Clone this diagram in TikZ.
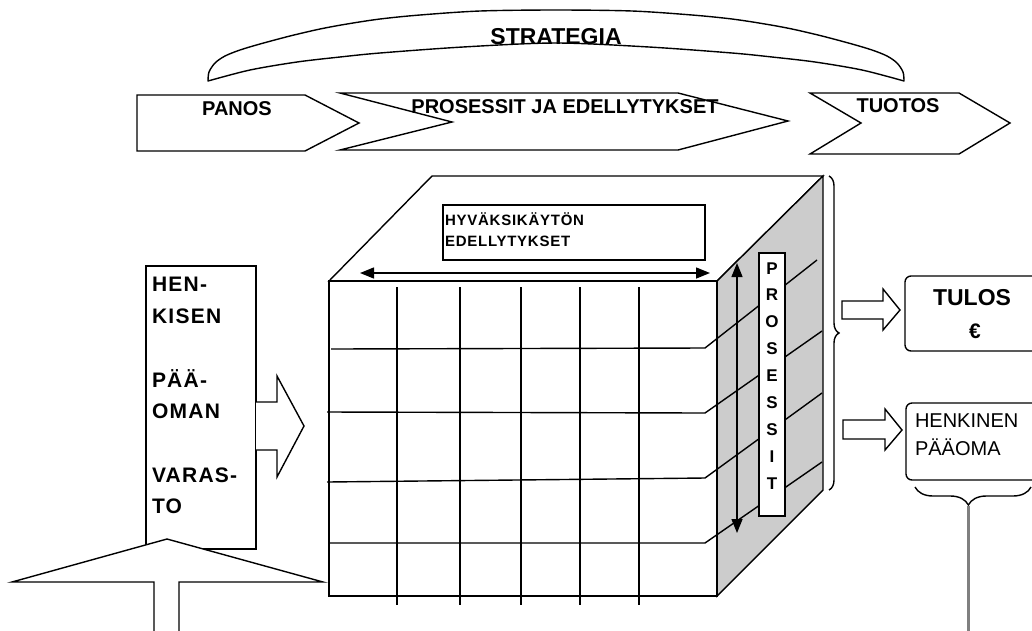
\documentclass[tikz,border=0pt]{standalone}
\usepackage{fontspec}
\setmainfont{Liberation Sans}
\usetikzlibrary{arrows.meta,decorations.pathreplacing}
\definecolor{sidegray}{RGB}{204,204,204}
\definecolor{stemgray}{RGB}{128,128,128}
\begin{document}
\begin{tikzpicture}[x=1pt,y=-1pt,
  line width=1.4pt, line join=miter,
  outline/.style={draw=black,fill=white},
  txt/.style={inner sep=0pt,outer sep=0pt},
  bigbold/.style={txt,font=\bfseries\fontsize{20pt}{24pt}\selectfont},
  capbold/.style={txt,font=\bfseries\fontsize{21pt}{25pt}\selectfont\addfontfeatures{LetterSpace=6}},
  smallbold/.style={txt,font=\bfseries\fontsize{15pt}{18pt}\selectfont\addfontfeatures{LetterSpace=5}},
  letterbold/.style={txt,font=\bfseries\fontsize{17pt}{20pt}\selectfont},
  plain/.style={txt,font=\fontsize{20pt}{24pt}\selectfont},
  dbl/.style={{Triangle[length=14pt,width=11pt]}-{Triangle[length=14pt,width=11pt]}},
  bracedeco/.style={decorate,decoration={brace,amplitude=#1}},
  stem/.style={draw=stemgray,line width=3pt}]
\clip (0,0) rectangle (1032,630);
\fill[white] (0,0) rectangle (1032,630);

% strategy arc band
\draw[outline,line join=round]
  plot[smooth] coordinates {(208,81) (209,72) (215,63) (225,56) (240,50) (260,44)
     (290,36) (320,29) (347,24) (380,19) (420,15) (480,11) (556,10) (632,11)
     (692,15) (732,19) (765,24) (792,29) (822,36) (852,44) (872,50) (887,56)
     (897,63) (903,72) (904,81)}
  -- plot[smooth] coordinates {(904,81) (862,70) (815,62) (772,57) (732,53)
     (649,47) (556,43) (463,47) (380,53) (340,57) (297,62) (250,70) (208,81)}
  -- cycle;
\node[txt,font=\bfseries\fontsize{23pt}{27pt}\selectfont,anchor=base] (strat) at (556,44) {STRATEGIA};

% input - process - output chevrons
\draw[outline] (137,95) -- (305,95) -- (359,123) -- (305,151) -- (137,151) -- cycle;
\draw[outline] (340,93) -- (678,93) -- (788,121) -- (678,150) -- (340,150) -- (452,122) -- cycle;
\draw[outline] (810,93) -- (959,93) -- (1010,123) -- (959,154) -- (810,154) -- (861,123) -- cycle;
\node[bigbold,anchor=base] (panos) at (237,115) {PANOS};
\node[bigbold,anchor=base] (pros) at (565,113) {PROSESSIT JA EDELLYTYKSET};
\node[bigbold,anchor=base] (tuotos) at (898,112) {TUOTOS};

% the cube
\coordinate (fTL) at (329,281);
\coordinate (fTR) at (717,281);
\coordinate (fBR) at (717,596);
\coordinate (fBL) at (329,596);
\coordinate (bTL) at (432,176);
\coordinate (bTR) at (823,176);
\coordinate (bBR) at (823,490);
\draw[outline] (fTL) -- (bTL) -- (bTR) -- (fTR) -- cycle;
\draw[draw=black,fill=sidegray] (fTR) -- (bTR) -- (bBR) -- (fBR) -- cycle;
\draw[outline] (fTL) rectangle (fBR);
\foreach \gx in {397,460,521,580,639} \draw (\gx,287) -- (\gx,605);
\draw (331,349) -- (705,348) -- (817,260);
\draw (327,412) -- (705,413) -- (822,331);
\draw (327,482) -- (705,478) -- (822,393);
\draw (329,543) -- (705,543) -- (822,462);

% labels on the cube
\draw[outline] (443,205) rectangle (705,260);
\node[smallbold,anchor=base west] (hyv1) at (445,225) {HYVÄKSIKÄYTÖN};
\node[smallbold,anchor=base west] (hyv2) at (445,246) {EDELLYTYKSET};
\coordinate (hL) at (360,273);
\coordinate (hR) at (710,273);
\draw[dbl] (hL) -- (hR);
\coordinate (vT) at (737,263);
\coordinate (vB) at (737,533);
\draw[dbl] (vT) -- (vB);
\draw[outline] (759,253) rectangle (785,516);
\foreach \ch [count=\k from 0] in {P,R,O,S,E,S,S,I,T}
  \node[letterbold,anchor=base] (pl\k) at (772,{274+26.9*\k}) {\ch};
\draw[bracedeco=10pt] (829,176) -- (829,490);

% human capital stock
\draw[outline] (146,266) rectangle (256,549);
\node[capbold,anchor=base west] (hk1) at (152,291) {HEN-};
\node[capbold,anchor=base west] (hk2) at (152,323) {KISEN};
\node[capbold,anchor=base west] (hk3) at (152,387) {PÄÄ-};
\node[capbold,anchor=base west] (hk4) at (152,418) {OMAN};
\node[capbold,anchor=base west] (hk5) at (152,482) {VARAS-};
\node[capbold,anchor=base west] (hk6) at (152,513) {TO};
\draw[outline] (256,402) -- (277,402) -- (277,376) -- (304,426) -- (277,477) -- (277,450) -- (256,450);
\draw[outline] (154,640) -- (154,582) -- (12,582) -- (167,539) -- (323,582) -- (179,582) -- (179,640);

% results
\draw[outline] (842,301) -- (883,301) -- (883,289) -- (900,310) -- (883,330) -- (883,319) -- (842,319) -- cycle;
\draw[outline] (843,420) -- (885,420) -- (885,409) -- (902,430) -- (885,450) -- (885,439) -- (843,439) -- cycle;
\draw[outline,rounded corners=6pt] (905,276) rectangle (1050,351);
\node[txt,font=\bfseries\fontsize{23pt}{27pt}\selectfont,anchor=base] (tulos) at (972,305) {TULOS};
\node[txt,font=\bfseries\fontsize{21pt}{25pt}\selectfont,anchor=base] (euro) at (975,338) {€};
\draw[outline,rounded corners=6pt] (906,403) rectangle (1050,480);
\node[plain,anchor=base west] (hp1) at (915,427) {HENKINEN};
\node[plain,anchor=base west] (hp2) at (915,455) {PÄÄOMA};
\draw[decorate,decoration={brace,amplitude=18pt,aspect=0.54}] (1031,487) -- (915,487);
\coordinate (stemTop) at (968,506);
\coordinate (stemEnd) at (968,640);
\draw[stem] (stemTop) -- (stemEnd);
\end{tikzpicture}
\end{document}
